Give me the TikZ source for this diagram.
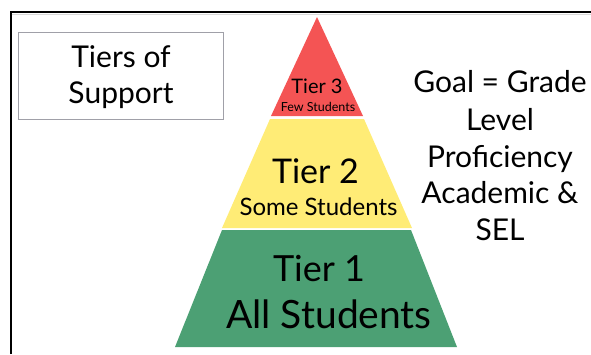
\documentclass[tikz,border=0pt]{standalone}
\usepackage{fontspec}
\setmainfont{Lato}
\definecolor{tierred}{RGB}{244,84,84}
\definecolor{tieryellow}{RGB}{255,236,118}
\definecolor{tiergreen}{RGB}{76,160,116}
\definecolor{boxgray}{RGB}{160,160,168}

\begin{document}
\begin{tikzpicture}[x=1pt, y=-1pt,
  txt/.style={inner sep=0pt, anchor=base, text=black},
  big/.style={txt, font=\fontsize{30}{30}\selectfont}]

  \useasboundingbox (0,0) rectangle (591,354);

  % frame
  \draw [line width=2pt] (10.5,354) -- (10.5,11.5) -- (591,11.5);
  \draw [black!15, line width=1pt] (11.5,14.5) -- (591,14.5);

  % title box
  \node (box) [draw=boxgray, line width=0.8pt, minimum width=205pt, minimum height=87pt] at (120.5,75.5) {};
  \node (tiersof) [big] at (121,67) {Tiers of};
  \node (support) [big] at (121,103) {Support};

  % pyramid
  \fill [tierred] (317,17) -- (363,116) -- (271,116) -- cycle;
  \fill [tieryellow] (364,119) -- (412,228) -- (222,228) -- (270,119) -- cycle;
  \fill [tiergreen] (411,230) -- (457,347) -- (175,347) -- (222,230) -- cycle;

  \node (tier3) [txt, font=\fontsize{20}{20}\selectfont] at (317,93) {Tier 3};
  \node (few) [txt, font=\fontsize{12.5}{12.5}\selectfont] at (318,111) {Few Students};
  \node (tier2) [txt, font=\fontsize{34}{34}\selectfont] at (315.5,183) {Tier 2};
  \node (some) [txt, font=\fontsize{24}{24}\selectfont] at (318.5,215) {Some Students};
  \node (tier1) [txt, font=\fontsize{36}{36}\selectfont] at (319,281) {Tier 1};
  \node (all) [txt, font=\fontsize{39}{39}\selectfont] at (329,328) {All Students};

  % goal
  \node (goal) [big] at (500,92) {Goal = Grade};
  \node (level) [big] at (500,130) {Level};
  \node (prof) [big] at (500,167) {Proficiency};
  \node (acad) [big] at (500,203) {Academic \&};
  \node (sel) [big] at (500,240) {SEL};

\end{tikzpicture}
\end{document}
